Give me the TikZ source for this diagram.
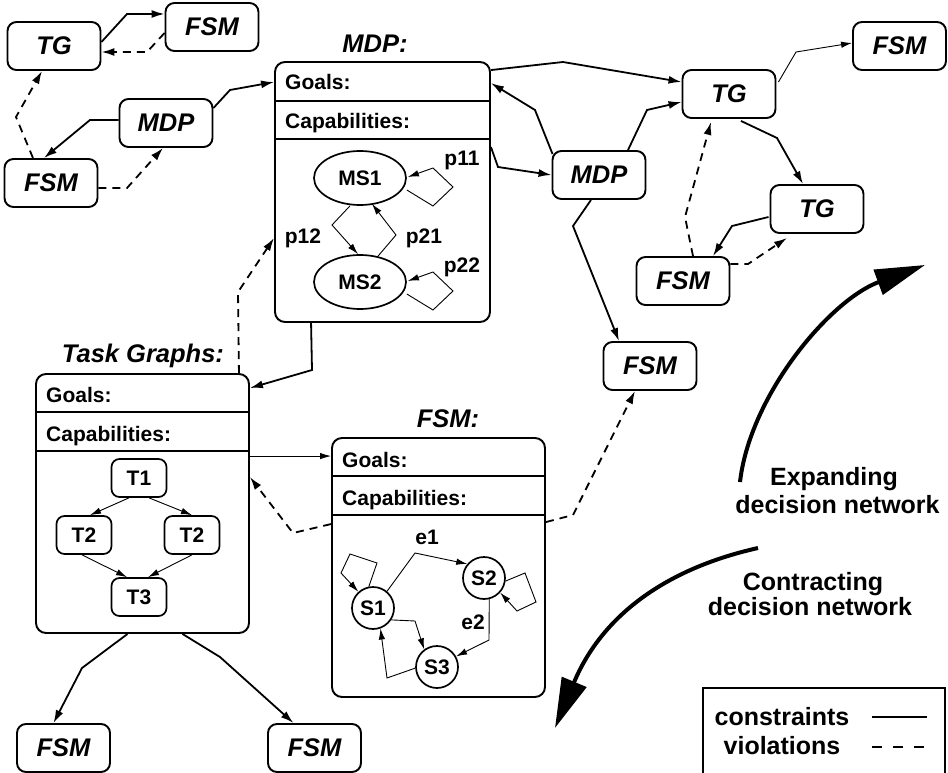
\documentclass[tikz,border=0pt]{standalone}
\usepackage{fontspec}
\setmainfont{Liberation Sans}
\usetikzlibrary{arrows.meta,calc,shapes.geometric}
\begin{document}
\begin{tikzpicture}[x=1pt,y=-1pt,
  lbl/.style={font=\fontsize{25.5}{28}\selectfont\bfseries\itshape, inner sep=0pt},
  txt/.style={font=\fontsize{21}{24}\selectfont\bfseries, inner sep=0pt},
  big/.style={font=\fontsize{25}{28}\selectfont\bfseries, inner sep=0pt},
  sbox/.style={lbl, draw, line width=1.9pt, rounded corners=9pt,
               minimum width=93pt, minimum height=48pt},
  bigbox/.style={draw, line width=1.9pt, rounded corners=10pt, inner sep=0pt},
  divider/.style={line width=1.9pt},
  tbox/.style={txt, draw, line width=1.7pt, rounded corners=8pt,
               minimum width=55pt, minimum height=38pt},
  mstate/.style={txt, draw, ellipse, line width=1.7pt,
                 minimum width=92pt, minimum height=54pt},
  fstate/.style={txt, draw, circle, line width=1.7pt, minimum size=42pt},
  con/.style={line width=1.8pt, -{Latex[length=13pt,width=8pt]}},
  thincon/.style={line width=0.9pt, -{Latex[length=11pt,width=6.5pt]}},
  viol/.style={con, dash pattern=on 8pt off 6pt},
  bigarrow/.style={line width=4pt, -{Triangle[length=50pt,width=26pt]}}
]
\useasboundingbox (0,0) rectangle (948,773);

% ---------- small decision nodes ----------
\node[sbox] (tgA)  at (54,46)    {TG};
\node[sbox] (fsmA) at (212,27)   {FSM};
\node[sbox] (mdpA) at (166,123)  {MDP};
\node[sbox] (fsmB) at (51,183)   {FSM};
\node[sbox] (tgB)  at (729,94)   {TG};
\node[sbox] (fsmC) at (899.5,46) {FSM};
\node[sbox] (mdpB) at (599,175)  {MDP};
\node[sbox] (tgC)  at (817,209)  {TG};
\node[sbox] (fsmD) at (683,281)  {FSM};
\node[sbox] (fsmE) at (650,366)  {FSM};
\node[sbox] (fsmF) at (63.5,748) {FSM};
\node[sbox] (fsmG) at (314.5,748){FSM};

% ---------- compartment boxes ----------
\node[bigbox, minimum width=215pt, minimum height=260pt] (mdpbox)  at (382.5,192)   {};
\node[bigbox, minimum width=213pt, minimum height=259pt] (taskbox) at (142.5,503.5) {};
\node[bigbox, minimum width=213pt, minimum height=259pt] (fsmbox)  at (438.5,567.5) {};

\draw[divider] (mdpbox.west |- 0,101) -- (mdpbox.east |- 0,101);
\draw[divider] (mdpbox.west |- 0,139) -- (mdpbox.east |- 0,139);
\draw[divider] (taskbox.west |- 0,412) -- (taskbox.east |- 0,412);
\draw[divider] (taskbox.west |- 0,451) -- (taskbox.east |- 0,451);
\draw[divider] (fsmbox.west |- 0,476) -- (fsmbox.east |- 0,476);
\draw[divider] (fsmbox.west |- 0,515) -- (fsmbox.east |- 0,515);

\node[lbl, anchor=base] (mdphead)  at (375,53)  {MDP:};
\node[lbl, anchor=base] (taskhead) at (143,362) {Task Graphs:};
\node[lbl, anchor=base] (fsmhead)  at (448,427) {FSM:};

\node[txt, anchor=base west] (mdpgoal) at (285,90)  {Goals:};
\node[txt, anchor=base west] (mdpcap)  at (285,129) {Capabilities:};
\node[txt, anchor=base west] (tgoal)   at (46,402)  {Goals:};
\node[txt, anchor=base west] (tcap)    at (46,441)  {Capabilities:};
\node[txt, anchor=base west] (fgoal)   at (342,467) {Goals:};
\node[txt, anchor=base west] (fcap)    at (342,505) {Capabilities:};

% ---------- MDP contents ----------
\node[mstate] (ms1) at (360,178) {MS1};
\node[mstate] (ms2) at (360,282) {MS2};
\node[txt] (p11) at (462,160) {p11};
\node[txt] (p12) at (303,238) {p12};
\node[txt] (p21) at (424,238) {p21};
\node[txt] (p22) at (462,267) {p22};
\draw[thincon] ($(ms1.east)+(0,12)$) -- (433,206) -- (453,187) -- (433,168) -- ($(ms1.east)+(1,-1)$);
\draw[thincon] ($(ms2.east)+(0,12)$) -- (433,310) -- (453,291) -- (433,272) -- ($(ms2.east)+(1,-1)$);
\draw[thincon] ($(ms1.south)+(-10,0)$) -- (332,225) -- ($(ms2.north)+(-2,0)$);
\draw[thincon] ($(ms2.north)+(18,2)$) -- (396,235) -- ($(ms1.south)+(12,-2)$);

% ---------- task graph contents ----------
\node[tbox] (t1)  at (139,478) {T1};
\node[tbox] (t2a) at (84,535)  {T2};
\node[tbox] (t2b) at (192,535) {T2};
\node[tbox] (t3)  at (139,597) {T3};
\draw[thincon] ($(t1.south)+(-10,0)$) -- ($(t2a.north)+(6,0)$);
\draw[thincon] ($(t1.south)+(10,0)$)  -- (t2b.north);
\draw[thincon] ($(t2a.south)+(-2,0)$) -- ($(t3.north)+(-12,0)$);
\draw[thincon] (t2b.south) -- ($(t3.north)+(9,0)$);

% ---------- FSM contents ----------
\node[fstate] (s1) at (373,608) {S1};
\node[fstate] (s2) at (484,578) {S2};
\node[fstate] (s3) at (437,667) {S3};
\node[txt] (e1) at (427,537) {e1};
\node[txt] (e2) at (473,622) {e2};
\draw[thincon] (s1.50) -- (415,553) -- (s2.140);
\draw[thincon] (s2.-76) -- (489,640) -- (s3.29);
\draw[thincon] (s1.-33) -- (415,621) -- (s3.126);
\draw[thincon] (s3.183) -- (387,678) -- (s1.-70);
\draw[thincon] (s1.101) -- (377,563) -- (350,554) -- (341,573) -- (s1.132);
\draw[thincon] (s2.-8) -- (525,573) -- (536,602) -- (517,611) -- (s2.-42);

% ---------- constraints (solid) and violations (dashed) ----------
\draw[con]  ($(tgA.east)+(0,-4)$) -- (127,14) -- ($(fsmA.west)+(0,-13)$);
\draw[viol] ($(fsmA.west)+(0,6)$) -- (147,52) -- ($(tgA.east)+(0,6)$);
\draw[viol] ($(fsmB.north)+(-18,0)$) -- (16,117) -- ($(tgA.south)+(-12,0)$);
\draw[con]  ($(mdpA.west)+(0,-3)$) -- (90,120) -- ($(fsmB.north)+(-7,0)$);
\draw[viol] ($(fsmB.east)+(0,5)$) -- (127,188) -- ($(mdpA.south)+(-3,0)$);
\draw[con]  ($(mdpA.east)+(0,-15)$) -- (230,90) -- ($(mdpbox.north west)+(0,21)$);

\draw[con]  ($(mdpbox.north east)+(0,9)$) -- (563,62) -- ($(tgB.west)+(0,-12)$);
\draw[con]  ($(mdpB.north west)+(1,4)$) -- (535,110) -- ($(mdpbox.north east)+(0,22)$);
\draw[con]  ($(mdpbox.north east)+(0,86)$) -- (498,167) -- (mdpB.west);
\draw[con]  ($(mdpB.north)+(29,0)$) -- (647,110) -- ($(tgB.west)+(0,8)$);
\draw[thincon] ($(tgB.east)+(2,-12)$) -- (796,52) -- ($(fsmC.west)+(0,-3)$);
\draw[con]  ($(tgB.south)+(12,2)$) -- (777,138) -- ($(tgC.north)+(-14,0)$);
\draw[con]  ($(tgC.west)+(-1,8)$) -- (732,226) -- ($(fsmD.north)+(30,0)$);
\draw[viol] ($(fsmD.east)+(0,-17)$) -- (748,264) -- ($(tgC.south)+(-30,4)$);
\draw[viol] ($(fsmD.north)+(10,0)$) -- (685,217) -- ($(tgB.south)+(-18,3)$);
\draw[con]  ($(mdpB.south)+(-8,0)$) -- (573,226) -- ($(fsmE.north)+(-31,0)$);

\draw[con]  ($(mdpbox.south west)+(37,0)$) -- (312,370) -- ($(taskbox.north east)+(0,15)$);
\draw[viol] ($(taskbox.north east)+(-11,0)$) -- (238,292) -- ($(mdpbox.west)+(0,46)$);
\draw[thincon] ($(taskbox.north east)+(0,83)$) -- ($(fsmbox.north west)+(0,19)$);
\draw[viol] ($(fsmbox.north west)+(0,87)$) -- (293,533) -- ($(taskbox.north east)+(0,104)$);
\draw[viol] ($(fsmbox.north east)+(0,85)$) -- (573,515) -- ($(fsmE.south)+(-15,0)$);
\draw[con]  ($(taskbox.south)+(-15,0)$) -- (82,668) -- ($(fsmF.north)+(-10,0)$);
\draw[con]  ($(taskbox.south)+(40,0)$) -- (220,657) -- ($(fsmG.north)+(-21,0)$);

% ---------- expanding / contracting ----------
\coordinate (expS) at (740,482);
\coordinate (expE) at (925,265);
\coordinate (conS) at (758,548);
\coordinate (conE) at (555,728);
\draw[bigarrow] (expS) .. controls (750,395) and (830,300) .. (expE);
\draw[bigarrow] (conS) .. controls (660,570) and (600,620) .. (conE);
\node[big, anchor=base] (exp1) at (834,485)   {Expanding};
\node[big, anchor=base] (exp2) at (837.5,513) {decision network};
\node[big, anchor=base] (con1) at (813,590)   {Contracting};
\node[big, anchor=base] (con2) at (810,615)   {decision network};

% ---------- legend ----------
\draw[line width=1.9pt] (703,775) -- (703,688) -- (945,688) -- (945,775);
\node[big, anchor=base] (lgc) at (782,725) {constraints};
\node[big, anchor=base] (lgv) at (782,754) {violations};
\coordinate (lc1) at (872,717);
\coordinate (lc2) at (927,717);
\coordinate (lv1) at (872,747);
\coordinate (lv2) at (927,747);
\draw[line width=1.5pt] (lc1) -- (lc2);
\draw[line width=1.5pt, dash pattern=on 10pt off 11pt] (lv1) -- (lv2);
\end{tikzpicture}
\end{document}
